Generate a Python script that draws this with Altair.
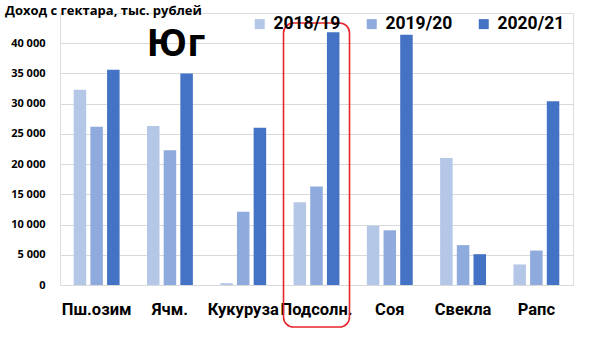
import altair as alt
import pandas as pd

crops = ["Пш.озим", "Ячм.", "Кукуруза", "Подсолн.", "Соя", "Свекла", "Рапс"]
seasons = ["2018/19", "2019/20", "2020/21"]
v_2018 = [32300, 26300, 300, 13700, 9800, 21000, 3400]
v_2019 = [26200, 22300, 12100, 16300, 9050, 6600, 5700]
v_2020 = [35600, 35000, 26000, 41800, 41400, 5100, 30400]
colors = ["#B4C7E7", "#8FAADC", "#4472C4"]
y_ticks = [0, 5000, 10000, 15000, 20000, 25000, 30000, 35000, 40000]
title_text = "Доход с гектара, тыс. рублей"
region_text = "Юг"
highlight = ["Подсолн."]

rows = []
for s, vals in zip(seasons, [v_2018, v_2019, v_2020]):
    for c, v in zip(crops, vals):
        rows.append({"crop": c, "season": s, "value": v})
df = pd.DataFrame(rows)

x_scale = alt.Scale(domain=crops, paddingInner=0.374, paddingOuter=0.187)

bars = alt.Chart(df).mark_bar().encode(
    x=alt.X("crop:N", scale=x_scale, sort=crops,
            axis=alt.Axis(title=None, labelAngle=0, domain=False, ticks=False,
                          labelFont="Roboto", labelFontWeight="bold",
                          labelFontSize=16.5, labelColor="#000000", labelPadding=16)),
    xOffset=alt.XOffset("season:N", sort=seasons,
                        scale=alt.Scale(paddingInner=0.25, paddingOuter=0)),
    y=alt.Y("value:Q", scale=alt.Scale(domain=[0, 45000], nice=False),
            axis=alt.Axis(title=None, values=y_ticks, domain=False, ticks=False,
                          labelExpr="replace(format(datum.value, ',d'), ',', ' ')",
                          labelFont="Open Sans", labelFontWeight="bold",
                          labelFontSize=11, labelColor="#000000", labelPadding=15,
                          gridColor="#D9D9D9", gridWidth=1)),
    color=alt.Color("season:N", sort=seasons,
                    scale=alt.Scale(domain=seasons, range=colors),
                    legend=alt.Legend(title=None, orient="none", direction="horizontal",
                                      legendX=191, legendY=2,
                                      symbolType="square", symbolSize=100,
                                      symbolStrokeWidth=0,
                                      labelFont="Roboto", labelFontWeight="bold",
                                      labelFontSize=17.5, labelColor="#000000",
                                      columnPadding=22, labelOffset=5)),
)

hl = alt.Chart(pd.DataFrame({"crop": highlight})).mark_bar(
    width=66, filled=False, stroke="#E8262B", strokeWidth=1.6, cornerRadius=10
).encode(
    x=alt.X("crop:N", scale=x_scale, sort=crops),
    y=alt.value(10),
    y2=alt.value(314),
)

title = alt.Chart(pd.DataFrame({"t": [title_text]})).mark_text(
    align="left", baseline="middle", font="Open Sans", fontWeight="bold",
    fontSize=13, color="#000000"
).encode(text="t:N", x=alt.value(-55), y=alt.value(-2))

region = alt.Chart(pd.DataFrame({"t": [region_text]})).mark_text(
    align="center", baseline="middle", font="Open Sans", fontWeight="bold",
    fontSize=38, color="#000000"
).encode(text="t:N", x=alt.value(116), y=alt.value(32))

chart = alt.layer(bars, hl, title, region).properties(
    width=513, height=272,
    autosize=alt.AutoSizeParams(type="none"),
    padding={"left": 60, "top": 13, "right": 27, "bottom": 52},
).configure_view(stroke=None).configure(background="#FFFFFF")

chart.save("out.html", embed_options={"renderer": "svg", "actions": False})
